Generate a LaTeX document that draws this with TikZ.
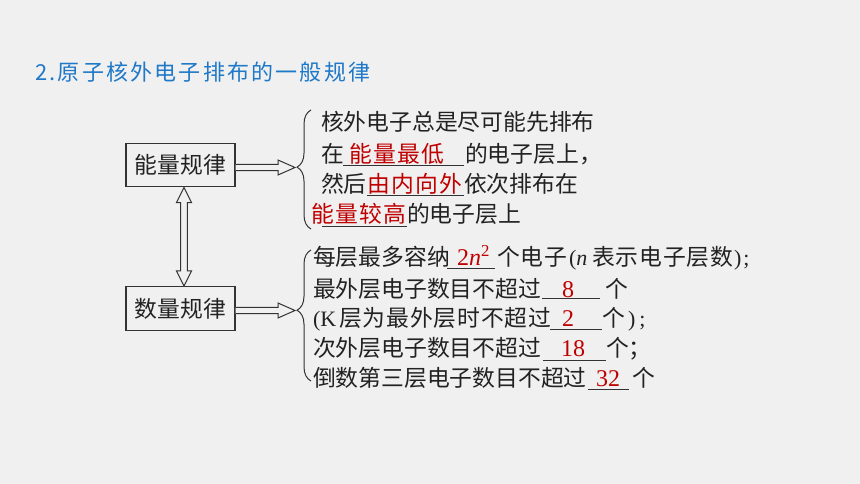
\documentclass[tikz,border=0pt]{standalone}
\usepackage{fontspec}
\setmainfont{Liberation Serif}
\newfontfamily\cjk{Noto Sans CJK SC}
\newfontfamily\cjkwide[LetterSpace=6]{Noto Sans CJK SC}
\newfontfamily\cjkmid[LetterSpace=4]{Noto Sans CJK SC}
\newfontfamily\cjktitle[LetterSpace=10]{Noto Sans CJK SC}
\usetikzlibrary{decorations.pathreplacing,calc}
\definecolor{bg}{HTML}{F0F0F0}
\definecolor{ink}{HTML}{222222}
\definecolor{lineink}{HTML}{333333}
\definecolor{redans}{HTML}{C00000}
\definecolor{titleblue}{HTML}{1F78C8}
\begin{document}
\begin{tikzpicture}[x=1pt,y=-1pt,
  txt/.style={anchor=base west, inner sep=0pt, outer sep=0pt, text=ink, font=\cjk\fontsize{22.8}{27}\selectfont},
  txtmid/.style={txt, font=\cjkmid\fontsize{22.8}{27}\selectfont},
  ans/.style={txt, text=redans, font=\cjkwide\fontsize{22.8}{27}\selectfont},
  ansnum/.style={anchor=base, inner sep=0pt, outer sep=0pt, text=redans, font=\fontsize{24}{28}\selectfont},
  lat/.style={txt, font=\fontsize{22}{26}\selectfont},
  uline/.style={draw=lineink, line width=0.8pt},
  rulebox/.style={draw=lineink, line width=1.1pt, minimum width=109pt, minimum height=43.5pt, inner sep=0pt, text=ink, font=\cjk\fontsize{22.8}{27}\selectfont},
  blockarrow/.style={draw=lineink, line width=1pt, fill=bg, line join=miter},
  bracestyle/.style={draw=lineink, line width=1pt, decorate, decoration={brace, amplitude=14pt, aspect=#1}},
]
\fill[bg] (0,0) rectangle (860,484);
\useasboundingbox (0,0) rectangle (860,484);

% title
\node[anchor=base west, inner sep=0pt, text=titleblue, font=\cjktitle\fontsize{22}{26}\selectfont] (title) at (35,81) {2.原子核外电子排布的一般规律};

% boxes
\node[rulebox] (b1) at (180.5,165) {能量规律};
\node[rulebox] (b2) at (180.5,308.5) {数量规律};

% brace tips
\coordinate (t1) at (295,167.5);
\coordinate (t2) at (295,310.5);

% horizontal block arrows
\draw[blockarrow] ($(b1.east)+(0,-0.7)$) -- ($(t1)+(-17,-3.2)$) -- ($(t1)+(-17,-7.5)$) -- (t1) -- ($(t1)+(-17,7.5)$) -- ($(t1)+(-17,3.2)$) -- ($(b1.east)+(0,5.7)$);
\draw[blockarrow] ($(b2.east)+(0,-1.2)$) -- ($(t2)+(-17,-3.2)$) -- ($(t2)+(-17,-7.5)$) -- (t2) -- ($(t2)+(-17,7.5)$) -- ($(t2)+(-17,3.2)$) -- ($(b2.east)+(0,5.2)$);

% vertical double block arrow
\coordinate (v1) at ($(b1.south)+(3.5,0.3)$);
\coordinate (v2) at ($(b2.north)+(3.5,-0.3)$);
\draw[blockarrow] (v1) -- ++(7.5,15) -- ++(-4.2,0) -- ($(v2)+(3.3,-15)$) -- ++(4.2,0) -- (v2) -- ++(-7.5,-15) -- ++(4.2,0) -- ($(v1)+(-3.3,15)$) -- ++(-4.2,0) -- cycle;

% braces
\coordinate (br1bot) at (311,229);
\coordinate (br1top) at (311,110);
\coordinate (br2bot) at (311,381);
\coordinate (br2top) at (311,250);
\draw[bracestyle=0.52] (br1bot) -- (br1top);
\draw[bracestyle=0.54] (br2bot) -- (br2top);

% upper block text
\node[txt] (a1) at (321,130.5) {核外电子总是尽可能先排布};
\node[txt] (a2) at (321,162.5) {在};
\node[ans] (a2r) at (349,162.5) {能量最低};
\node[txt] (a2b) at (465,162.5) {的电子层上，};
\draw[uline] (343,165) -- (464,165);
\node[txt] (a3) at (321,192.5) {然后};
\node[ans] (a3r) at (367,192.5) {由内向外};
\node[txt] (a3b) at (464,192.5) {依次排布在};
\draw[uline] (367,195) -- (464,195);
\node[ans] (a4r) at (311,222.5) {能量较高};
\node[txt] (a4b) at (407,222.5) {的电子层上};
\draw[uline] (322,226) -- (407,226);

% lower block text
\node[txt] (c1) at (313,265.5) {每层最多容纳};
\node[ansnum, anchor=base west] (c1r) at (457,265.5) {2\textit{n}\textsuperscript{2}};
\node[txtmid] (c1b) at (497,265.5) {个电子};
\node[lat] (c1p) at (569,265.5) {(\textit{n}};
\node[txtmid] (c1c) at (592,265.5) {表示电子层数};
\node[lat] (c1e) at (734,265.5) {)\kern2pt;};
\draw[uline] (447,268) -- (495,268);

\node[txt] (d1) at (313,297.5) {最外层电子数目不超过};
\node[ansnum] (d1r) at (568,297.5) {8};
\node[txt] (d1b) at (605,297.5) {个};
\draw[uline] (542,298.5) -- (600,298.5);

\node[lat] (e1) at (313,326.5) {(K};
\node[txtmid] (e1b) at (339,326.5) {层为最外层时不超过};
\node[ansnum] (e1r) at (568,326.5) {2};
\node[txt] (e1c) at (602,326.5) {个};
\node[lat] (e1d) at (628,326.5) {)\kern4pt;};
\draw[uline] (550,329) -- (602,329);

\node[txt] (f1) at (313,356) {次外层电子数目不超过};
\node[ansnum] (f1r) at (573,356) {18};
\node[txt] (f1b) at (606,356) {个；};
\draw[uline] (543,360) -- (606,360);

\node[txt] (g1) at (313,386) {倒数第三层电子数目不超过};
\node[ansnum] (g1r) at (608,386) {32};
\node[txt] (g1b) at (632,386) {个};
\draw[uline] (588,389) -- (629,389);
\end{tikzpicture}
\end{document}
